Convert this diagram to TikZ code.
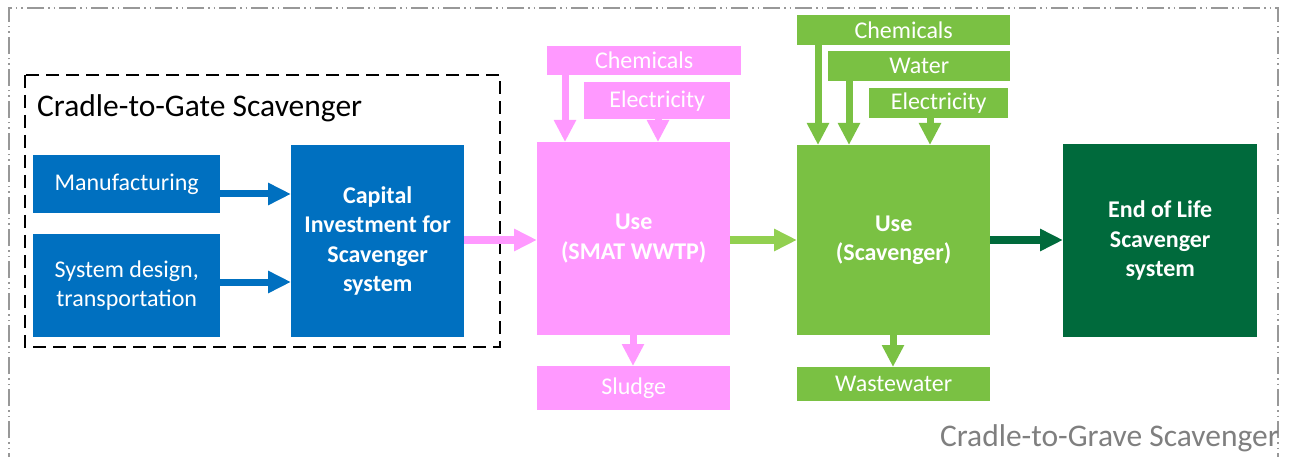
\documentclass[tikz,border=0pt]{standalone}
\usepackage{fontspec}
\setmainfont{Carlito}
\usetikzlibrary{arrows.meta}
\definecolor{cblue}{HTML}{0070C0}
\definecolor{cpink}{HTML}{FF99FF}
\definecolor{cgreen}{HTML}{7AC143}
\definecolor{cgreenarr}{HTML}{92D050}
\definecolor{cdark}{HTML}{006A3C}
\definecolor{cgray}{HTML}{7F7F7F}
\begin{document}
\begin{tikzpicture}[x=1pt,y=-1pt,
  box/.style={draw=none, text=white, align=center, inner sep=0pt, anchor=north west,
    font=\fontsize{24}{29.5}\selectfont},
  bbox/.style={box, font=\fontsize{24}{29.5}\selectfont\bfseries},
  harrow/.style={line width=7pt, -{Triangle[width=21pt,length=23pt]}},
  varrow/.style={line width=7pt, -{Triangle[width=21pt,length=22pt]}},
  title/.style={inner sep=0pt, font=\fontsize{31.5}{31.5}\selectfont}]
\useasboundingbox (0,0) rectangle (1293,457);
% outer frame
\begin{scope}
\clip (0,0) rectangle (1293,457);
\draw[cgray!80, line width=1.5pt, dash pattern=on 17pt off 4pt on 1.5pt off 4pt on 1.5pt off 4pt]
  (9,470) -- (9,8) -- (1278,8) -- (1278,470);
\end{scope}
% inner dashed frame
\draw[black, line width=2.5pt, dash pattern=on 13pt off 7pt] (25,75) rectangle (500,347);
\node[title, anchor=base west] (gate) at (37,117) {Cradle-to-Gate Scavenger};
\node[title, anchor=base east, text=cgray] (grave) at (1279,446) {Cradle-to-Grave Scavenger};

% blue
\node[box, fill=cblue, minimum width=187pt, minimum height=58pt] (manu) at (33,155) {Manufacturing};
\node[box, fill=cblue, minimum width=187pt, minimum height=103pt] (sys) at (33,234) {System design,\\transportation};
\node[bbox, fill=cblue, minimum width=173pt, minimum height=192pt] (cap) at (291,145) {Capital\\Investment for\\Scavenger\\system};
\coordinate (a1) at (0,194);
\coordinate (a2) at (0,282);
\draw[harrow, cblue] (manu.east |- a1) -- (cap.west |- a1);
\draw[harrow, cblue] (sys.east |- a2) -- (cap.west |- a2);

% pink
\node[bbox, fill=cpink, minimum width=193pt, minimum height=193pt] (puse) at (537,142) {Use\\(SMAT WWTP)};
\node[box, fill=cpink, minimum width=194pt, minimum height=29pt] (pchem) at (547,46) {Chemicals};
\node[box, fill=cpink, minimum width=146pt, minimum height=37pt] (pelec) at (584,82) {Electricity};
\node[box, fill=cpink, minimum width=193pt, minimum height=44pt] (sludge) at (537,366) {Sludge};
\coordinate (a3) at (0,240);
\draw[harrow, cpink] (cap.east |- a3) -- (puse.west |- a3);
\coordinate (px1) at (565,0);
\coordinate (px2) at (658,0);
\coordinate (px3) at (633,0);
\draw[varrow, cpink] (pchem.south -| px1) -- (puse.north -| px1);
\draw[varrow, cpink] (pelec.south -| px2) -- (puse.north -| px2);
\draw[varrow, cpink] (puse.south -| px3) -- (sludge.north -| px3);

% green
\node[bbox, fill=cgreen, minimum width=193pt, minimum height=190pt] (guse) at (797,145) {Use\\(Scavenger)};
\node[box, fill=cgreen, minimum width=213pt, minimum height=30pt] (gchem) at (797,15) {Chemicals};
\node[box, fill=cgreen, minimum width=182pt, minimum height=30pt] (gwater) at (828,51) {Water};
\node[box, fill=cgreen, minimum width=139pt, minimum height=30pt] (gelec) at (869,88) {Electricity};
\node[box, fill=cgreen, minimum width=193pt, minimum height=34pt] (waste) at (797,367) {Wastewater};
\draw[harrow, cgreenarr] (puse.east |- a3) -- (guse.west |- a3);
\coordinate (gx1) at (818,0);
\coordinate (gx2) at (849,0);
\coordinate (gx3) at (930,0);
\coordinate (gx4) at (893,0);
\draw[varrow, cgreen] (gchem.south -| gx1) -- (guse.north -| gx1);
\draw[varrow, cgreen] (gwater.south -| gx2) -- (guse.north -| gx2);
\draw[varrow, cgreen] (gelec.south -| gx3) -- (guse.north -| gx3);
\draw[varrow, cgreen] (guse.south -| gx4) -- (waste.north -| gx4);

% end of life
\node[bbox, fill=cdark, minimum width=194pt, minimum height=193pt] (eol) at (1063,144) {End of Life\\Scavenger\\system};
\draw[harrow, cdark] (guse.east |- a3) -- (eol.west |- a3);
\end{tikzpicture}
\end{document}
